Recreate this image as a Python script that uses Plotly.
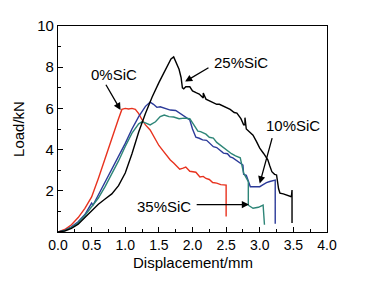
import plotly.graph_objects as go

# 0%SiC (red)
x_0 = [0, 0.1, 0.2, 0.3, 0.4, 0.5, 0.6, 0.7, 0.8, 0.9, 0.95, 1.0, 1.05, 1.1, 1.15, 1.2, 1.25, 1.3, 1.37, 1.45, 1.5, 1.56, 1.62, 1.67, 1.72, 1.81, 1.86, 1.9, 1.96, 2.05, 2.11, 2.16, 2.2, 2.25, 2.3, 2.36, 2.42, 2.47, 2.5, 2.5]
y_0 = [0, 0.12, 0.35, 0.7, 1.15, 1.7, 2.6, 3.6, 4.6, 5.5, 5.95, 6.0, 5.97, 6.0, 5.95, 5.75, 5.45, 5.2, 4.95, 4.45, 4.2, 3.95, 3.7, 3.5, 3.35, 3.05, 3.1, 3.15, 2.95, 2.9, 2.67, 2.7, 2.6, 2.55, 2.4, 2.37, 2.3, 2.3, 2.28, 0.75]

# 10%SiC (blue)
x_10 = [0, 0.1, 0.2, 0.3, 0.4, 0.48, 0.5, 0.52, 0.6, 0.7, 0.8, 0.9, 1.0, 1.1, 1.2, 1.3, 1.37, 1.42, 1.47, 1.52, 1.6, 1.67, 1.75, 1.82, 1.9, 1.96, 2.0, 2.05, 2.1, 2.15, 2.21, 2.26, 2.31, 2.36, 2.41, 2.46, 2.52, 2.56, 2.6, 2.66, 2.71, 2.75, 2.76, 2.8, 2.86, 2.92, 3.0, 3.05, 3.1, 3.15, 3.2, 3.23, 3.23]
y_10 = [0, 0.08, 0.25, 0.5, 0.85, 1.25, 1.4, 1.3, 1.8, 2.35, 3.0, 3.6, 4.3, 5.0, 5.6, 6.1, 6.3, 6.2, 6.05, 6.08, 6.0, 5.92, 5.9, 5.75, 5.6, 5.44, 5.0, 4.6, 4.55, 4.47, 4.45, 4.3, 4.14, 4.1, 3.95, 3.83, 3.8, 3.65, 3.6, 3.45, 3.35, 3.25, 2.8, 2.75, 2.2, 2.2, 2.2, 2.3, 2.4, 2.45, 2.5, 2.52, 0.4]

# 25%SiC (black)
x_25 = [0, 0.1, 0.2, 0.3, 0.4, 0.5, 0.6, 0.7, 0.8, 0.9, 1.0, 1.1, 1.2, 1.3, 1.4, 1.5, 1.6, 1.68, 1.72, 1.76, 1.8, 1.83, 1.85, 1.87, 1.9, 1.96, 2.0, 2.06, 2.1, 2.16, 2.16, 2.2, 2.26, 2.31, 2.36, 2.4, 2.46, 2.51, 2.56, 2.62, 2.66, 2.72, 2.76, 2.78, 2.78, 2.8, 2.86, 2.9, 2.95, 3.0, 3.06, 3.12, 3.15, 3.18, 3.22, 3.25, 3.28, 3.3, 3.35, 3.4, 3.47, 3.48, 3.48]
y_25 = [0, 0.05, 0.18, 0.38, 0.7, 1.05, 1.35, 1.6, 1.85, 2.25, 2.86, 3.8, 4.85, 5.75, 6.55, 7.25, 7.9, 8.4, 8.5, 8.2, 7.9, 7.5, 7.0, 6.95, 7.05, 7.05, 6.85, 6.75, 6.7, 6.5, 6.75, 6.45, 6.35, 6.26, 6.2, 6.2, 6.1, 6.0, 5.95, 5.8, 5.77, 5.5, 5.2, 5.2, 5.55, 5.0, 4.8, 4.7, 4.4, 4.07, 3.8, 3.5, 3.2, 2.93, 2.8, 2.77, 2.1, 1.89, 1.85, 1.8, 1.71, 2.04, 0.44]

# 35%SiC (teal)
x_35 = [0, 0.1, 0.2, 0.3, 0.4, 0.5, 0.6, 0.7, 0.8, 0.9, 1.0, 1.1, 1.2, 1.25, 1.3, 1.37, 1.45, 1.52, 1.58, 1.65, 1.72, 1.8, 1.88, 1.96, 2.02, 2.08, 2.12, 2.2, 2.25, 2.31, 2.36, 2.42, 2.46, 2.52, 2.58, 2.64, 2.71, 2.76, 2.83, 2.83, 2.9, 2.98, 3.05, 3.07]
y_35 = [0, 0.07, 0.22, 0.45, 0.8, 1.2, 1.65, 2.2, 2.8, 3.45, 4.15, 4.8, 5.25, 5.35, 5.3, 5.2, 5.35, 5.6, 5.68, 5.6, 5.58, 5.5, 5.53, 5.5, 5.2, 4.9, 4.87, 4.75, 4.6, 4.56, 4.35, 4.2, 4.08, 3.95, 3.8, 3.7, 3.6, 2.86, 2.44, 1.3, 1.15, 1.2, 1.31, 0.35]

x_ticks = [0.0, 0.5, 1.0, 1.5, 2.0, 2.5, 3.0, 3.5, 4.0]
y_ticks = [2, 4, 6, 8, 10]

labels = ["0%SiC", "25%SiC", "10%SiC", "35%SiC"]
label_pos = [(0.83, 7.67), (2.72, 8.23), (3.49, 5.15), (1.58, 1.26)]
arrow_tail = [(0.70, 7.22), (2.26, 8.02), (3.19, 4.63), (2.04, 1.33)]
arrow_head = [(0.93, 5.92), (1.89, 7.3), (3.0, 2.36), (2.84, 1.33)]

FONT = "Liberation Sans, Arial, sans-serif"

fig = go.Figure()
series = [
    (x_0, y_0, "#e8321e", "0%SiC"),
    (x_10, y_10, "#2b3a99", "10%SiC"),
    (x_35, y_35, "#2d8577", "35%SiC"),
    (x_25, y_25, "#000000", "25%SiC"),
]
for xs, ys, c, n in series:
    fig.add_trace(go.Scatter(x=xs, y=ys, mode="lines", name=n,
                             line=dict(color=c, width=1.4), showlegend=False))

annotations = []
for t, (tx, ty) in zip(labels, label_pos):
    annotations.append(dict(x=tx, y=ty, xref="x", yref="y", text=t, showarrow=False,
                            font=dict(family=FONT, size=15, color="black")))
for (ax, ay), (hx, hy) in zip(arrow_tail, arrow_head):
    annotations.append(dict(x=hx, y=hy, ax=ax, ay=ay, xref="x", yref="y",
                            axref="x", ayref="y", text="", showarrow=True,
                            arrowhead=2, arrowsize=1.1, arrowwidth=1.3,
                            arrowcolor="black"))
# x-axis title as annotation for precise placement
annotations.append(dict(x=0.5, y=-0.15, xref="paper", yref="paper",
                        text="Displacement/mm", showarrow=False,
                        yanchor="middle", font=dict(family=FONT, size=15, color="black")))

# The page body adds an 8px margin, so the figure is shifted by 8px.
fig.update_layout(
    width=362, height=276,
    margin=dict(l=50, r=43, t=18, b=52),
    paper_bgcolor="white", plot_bgcolor="white",
    font=dict(family=FONT, size=14, color="black"),
    annotations=annotations,
    xaxis=dict(range=[0, 4.0], tickvals=x_ticks, automargin=False,
               ticktext=[f"{v:.1f}" for v in x_ticks],
               showline=True, linecolor="black", linewidth=1.3, mirror=True,
               ticks="inside", ticklen=5, tickcolor="black", showgrid=False,
               zeroline=False,
               minor=dict(dtick=0.25, tick0=0, ticks="inside", ticklen=3, tickcolor="black"),
               tickfont=dict(size=14)),
    yaxis=dict(range=[0, 10], tickvals=y_ticks, automargin=False,
               showline=True, linecolor="black", linewidth=1.3, mirror=True,
               ticks="inside", ticklen=5, tickcolor="black", showgrid=False,
               zeroline=False,
               minor=dict(dtick=1, tick0=0, ticks="inside", ticklen=3, tickcolor="black"),
               title=dict(text="Load/kN", font=dict(size=15), standoff=8),
               tickfont=dict(size=15)),
)

fig.write_html("out.html")
